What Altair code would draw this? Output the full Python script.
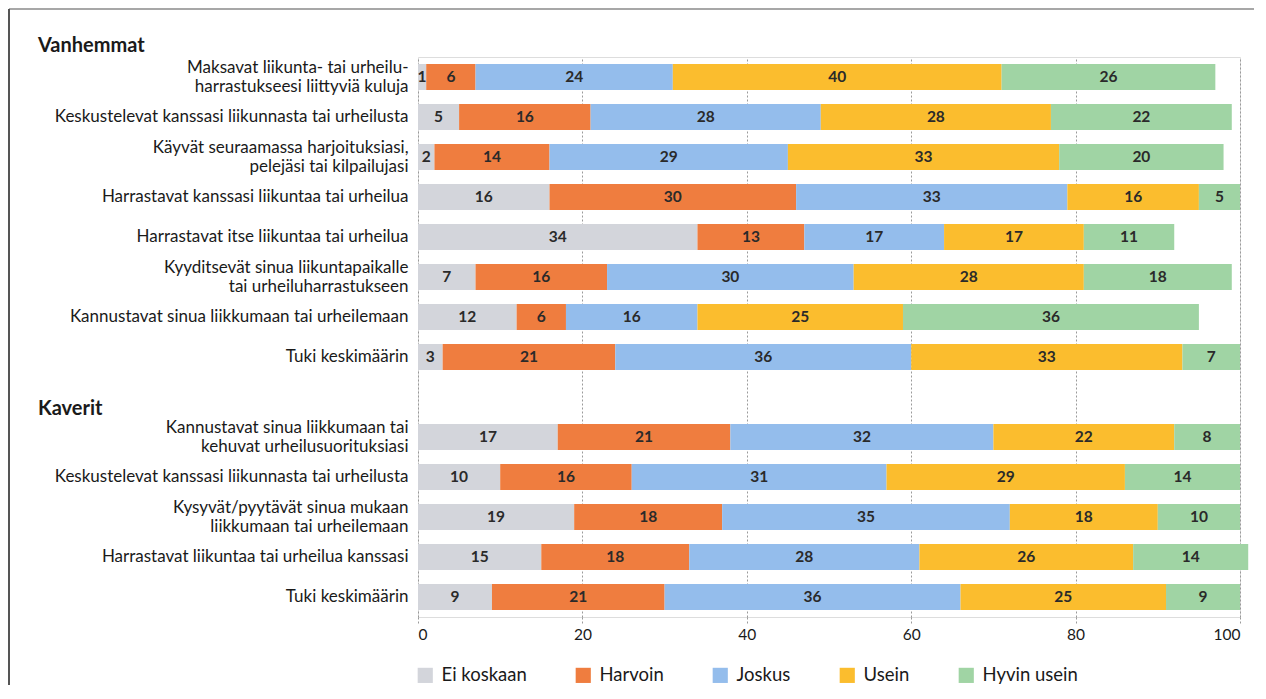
import altair as alt
import pandas as pd

series = ["Ei koskaan", "Harvoin", "Joskus", "Usein", "Hyvin usein"]
colors = ["#d3d5db", "#ef7d3f", "#94bdec", "#fbbd2e", "#a0d4a4"]

# row keys: "group|label" ; "~" marks a line break in the label
row_keys = [
    "V1|Maksavat liikunta- tai urheilu-~harrastukseesi liittyviä kuluja",
    "V2|Keskustelevat kanssasi liikunnasta tai urheilusta",
    "V3|Käyvät seuraamassa harjoituksiasi,~pelejäsi tai kilpailujasi",
    "V4|Harrastavat kanssasi liikuntaa tai urheilua",
    "V5|Harrastavat itse liikuntaa tai urheilua",
    "V6|Kyyditsevät sinua liikuntapaikalle~tai urheiluharrastukseen",
    "V7|Kannustavat sinua liikkumaan tai urheilemaan",
    "V8|Tuki keskimäärin",
    "GAP|",
    "K1|Kannustavat sinua liikkumaan tai~kehuvat urheilusuorituksiasi",
    "K2|Keskustelevat kanssasi liikunnasta tai urheilusta",
    "K3|Kysyvät/pyytävät sinua mukaan~liikkumaan tai urheilemaan",
    "K4|Harrastavat liikuntaa tai urheilua kanssasi",
    "K5|Tuki keskimäärin",
]

ei_koskaan = [1, 5, 2, 16, 34, 7, 12, 3, None, 17, 10, 19, 15, 9]
harvoin = [6, 16, 14, 30, 13, 16, 6, 21, None, 21, 16, 18, 18, 21]
joskus = [24, 28, 29, 33, 17, 30, 16, 36, None, 32, 31, 35, 28, 36]
usein = [40, 28, 33, 16, 17, 28, 25, 33, None, 22, 29, 18, 26, 25]
hyvin_usein = [26, 22, 20, 5, 11, 18, 36, 7, None, 8, 14, 10, 14, 9]

group_titles = ["Vanhemmat", "Kaverit"]

records = []
for i, key in enumerate(row_keys):
    for j, (name, vals) in enumerate(zip(series, [ei_koskaan, harvoin, joskus, usein, hyvin_usein])):
        v = vals[i]
        if v is None:
            continue
        records.append({"key": key, "series": name, "order": j, "value": v})
df = pd.DataFrame(records)

FONT = "Lato"
TXT = "#1a1a1a"

y_scale = alt.Scale(domain=row_keys, paddingInner=0.35, paddingOuter=0.175)

y_enc = alt.Y(
    "key:N",
    scale=y_scale,
    axis=alt.Axis(
        title=None,
        labelExpr="split(split(datum.value, '|')[1], '~')",
        labelFontSize=17,
        labelFont=FONT,
        labelColor=TXT,
        labelLineHeight=19,
        labelPadding=10,
        labelOffset=alt.condition("indexof(datum.value, '~') >= 0", alt.value(-9.5), alt.value(0)),
        ticks=False,
        domain=False,
        labelLimit=500,
    ),
)

base = alt.Chart(df).transform_stack(
    stack="value", groupby=["key"], as_=["x0", "x1"], sort=[alt.SortField("order", order="ascending")]
).transform_calculate(mid="(datum.x0 + datum.x1) / 2")

bars = base.mark_bar(opacity=1).encode(
    x=alt.X(
        "x0:Q",
        scale=alt.Scale(domain=[0, 100], nice=False),
        axis=alt.Axis(
            title=None,
            values=[0, 20, 40, 60, 80, 100],
            grid=True,
            gridColor="#9a9a9a",
            gridDash=[2, 2],
            gridWidth=1,
            domain=False,
            ticks=True,
            tickColor="#9a9a9a",
            tickDash=[2, 2],
            tickSize=6,
            labelFontSize=15.5,
            labelFont=FONT,
            labelColor=TXT,
            labelPadding=4,
        ),
    ),
    x2="x1:Q",
    y=y_enc,
    color=alt.Color(
        "series:N",
        scale=alt.Scale(domain=series, range=colors),
        legend=alt.Legend(
            title=None,
            orient="none",
            direction="horizontal",
            legendX=-2,
            legendY=609,
            symbolType="square",
            symbolSize=230,
            symbolStrokeWidth=0,
            labelFontSize=18.5,
            labelFont=FONT,
            labelColor=TXT,
            columnPadding=47,
            labelOffset=7,
        ),
    ),
    order=alt.Order("order:Q"),
)

labels = base.mark_text(fontWeight="bold", fontSize=15.5, font=FONT, color="#2a2a2a").encode(
    x="mid:Q",
    y=alt.Y("key:N", scale=y_scale),
    text="value:Q",
)

h1 = alt.Chart(alt.Data(values=[{"t": group_titles[0]}])).mark_text(
    align="left", baseline="middle", fontWeight="bold", fontSize=20, font=FONT, color=TXT
).encode(text="t:N", x=alt.value(-380), y=alt.value(-11))

h2 = alt.Chart(alt.Data(values=[{"t": group_titles[1]}])).mark_text(
    align="left", baseline="middle", fontWeight="bold", fontSize=20, font=FONT, color=TXT
).encode(text="t:N", x=alt.value(-380), y=alt.value(352))

frame_top = alt.Chart(alt.Data(values=[{"a": 1}])).mark_rule(color="#8a8a8a", strokeWidth=1.5).encode(
    x=alt.value(-409), x2=alt.value(836), y=alt.value(-48)
)
frame_left = alt.Chart(alt.Data(values=[{"a": 1}])).mark_rule(color="#555555", strokeWidth=2).encode(
    x=alt.value(-409), y=alt.value(-48), y2=alt.value(628)
)

chart = (
    alt.layer(bars, labels, h1, h2, frame_top, frame_left)
    .properties(width=822, height=560, padding=0)
    .configure_view(stroke=None)
    .configure(background="white")
)

chart.save("out.html", embed_options={"renderer": "svg", "actions": False})
